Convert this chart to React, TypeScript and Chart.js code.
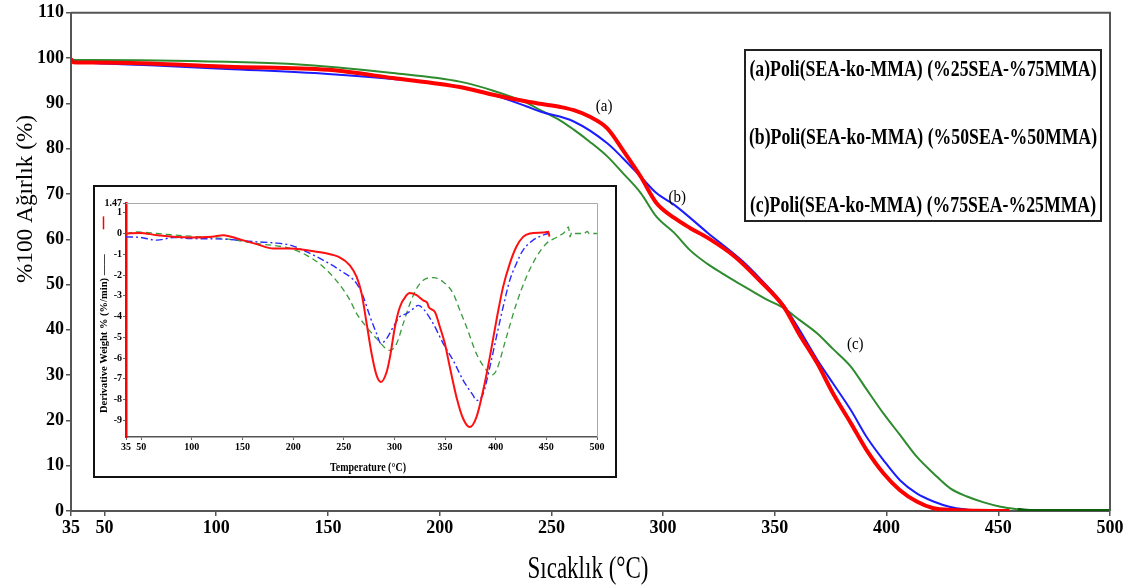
import React, { useEffect, useRef } from "react";
import { Chart, registerables } from "chart.js";

Chart.register(...registerables);

const SERIF = '"Liberation Serif", "Times New Roman", serif';

// ---------- Main TGA data (temperature °C -> % weight) ----------
const tempA = [35, 36, 45, 75, 105, 150, 179, 209, 224, 239, 245, 254, 260, 267, 275, 282, 290, 297, 305, 312, 320, 332, 343, 354, 361, 369, 376, 384, 391, 398.5, 406, 413.5, 421, 430, 440, 455];
const weightA = [99.8, 99.1, 99.0, 98.7, 98.1, 97.4, 95.6, 93.6, 91.9, 90.4, 89.9, 89.2, 88.5, 87.1, 84.5, 79.7, 73.8, 68.0, 64.7, 62.5, 60.3, 56.2, 51.0, 45.1, 39.0, 32.6, 26.0, 19.4, 13.5, 8.4, 4.6, 2.1, 0.6, 0.2, 0.05, 0];

const tempB = [35, 45, 75, 105, 150, 179, 209, 224, 239, 245, 260, 275, 282, 290, 297, 305, 320, 335, 343, 354, 361, 369, 376, 384, 391, 398.5, 406, 413.5, 421, 428.5, 436, 440];
const weightB = [99.3, 98.9, 98.3, 97.6, 96.5, 95.4, 93.7, 91.9, 89.3, 88.2, 86.0, 81.2, 77.9, 73.8, 70.2, 67.6, 61.4, 55.4, 51.5, 45.4, 40.0, 33.4, 28.2, 22.3, 16.4, 11.3, 6.8, 3.9, 2.1, 0.9, 0.3, 0.1];

const tempC = [35, 45, 105, 134, 179, 209, 224, 239, 245, 254, 260, 267, 275, 282, 290, 297, 305, 312, 320, 327, 332, 340, 346, 354, 361, 369, 376, 384, 391, 398.5, 406, 413.5, 421, 428.5, 436, 443.5, 451, 458.5, 465, 500];
const weightC = [99.6, 99.6, 99.2, 98.7, 96.7, 94.8, 92.8, 90.1, 88.5, 86.2, 84.2, 81.6, 78.3, 74.6, 70.2, 65.0, 61.4, 57.6, 54.5, 52.3, 50.8, 48.5, 46.8, 44.8, 42.2, 39.2, 35.8, 31.9, 26.9, 21.6, 16.8, 12.0, 8.3, 5.0, 3.2, 1.9, 0.95, 0.4, 0.1, 0.1];

// ---------- Inset DTG data (temperature °C -> derivative weight %/min) ----------
const dtgTempA = [35, 49, 65.6, 98.4, 120, 131, 147.7, 164, 180.6, 197, 213.4, 229.9, 246.3, 256, 262.7, 267.6, 272.6, 277.5, 282.4, 286.7, 292.3, 295.6, 300.5, 305.4, 312, 315, 321.9, 328.4, 332.5, 334, 340, 344.9, 349.8, 354.7, 361.3, 367.9, 374.4, 381, 387.6, 394.2, 400.7, 407.3, 413.9, 420.4, 427, 433.6, 446.7, 452, 453];
const dtgA = [0.0, 0.03, -0.08, -0.19, -0.15, -0.08, -0.29, -0.51, -0.72, -0.72, -0.8, -0.93, -1.16, -1.53, -2.09, -2.89, -4.34, -5.79, -6.83, -7.15, -6.67, -5.95, -4.5, -3.54, -2.97, -2.86, -2.97, -3.22, -3.35, -3.55, -3.78, -4.5, -5.3, -6.43, -7.88, -8.92, -9.32, -8.84, -7.56, -5.95, -4.18, -2.57, -1.45, -0.64, -0.16, 0, 0.05, 0.08, -0.15];

const dtgTempB = [35, 49, 65.6, 82, 98.4, 131, 164, 180.6, 197, 213.4, 229.9, 246.3, 262.7, 269.3, 275.9, 282.4, 286.7, 292.3, 298.9, 305.4, 312, 318.6, 323.5, 328.4, 338.3, 348.2, 358, 367.9, 377.7, 381, 387.6, 394.2, 400.7, 407.3, 413.9, 420.4, 427, 436.9, 446.7, 451.7];
const dtgB = [-0.16, -0.19, -0.32, -0.19, -0.24, -0.27, -0.4, -0.45, -0.56, -0.88, -1.29, -1.77, -2.41, -3.05, -4.0, -4.82, -5.3, -5.06, -4.5, -4.0, -3.86, -3.62, -3.46, -3.62, -4.34, -5.3, -6.11, -7.07, -7.8, -8.04, -7.72, -6.43, -4.98, -3.54, -2.25, -1.45, -0.8, -0.32, -0.08, 0];

const dtgTempC = [35, 45.8, 65.6, 98.4, 131, 164, 197, 213.4, 229.9, 246.3, 256.2, 262.7, 272.6, 282.4, 295.6, 302.1, 308.7, 315.3, 321.9, 328.4, 338.3, 348.2, 358, 364.6, 371.2, 381, 390.9, 395.8, 400.7, 410.6, 420.4, 430.3, 440.2, 450, 459.9, 464.8, 466.5, 469.5, 471.8, 473.4, 475, 479, 487, 490.5, 492, 500];
const dtgC = [0, 0.08, 0, -0.13, -0.24, -0.48, -0.72, -1.05, -1.61, -2.49, -3.22, -3.86, -4.5, -5.06, -5.63, -5.31, -4.34, -3.38, -2.65, -2.25, -2.12, -2.33, -2.89, -3.7, -4.5, -5.79, -6.59, -6.83, -6.59, -4.98, -3.38, -2.09, -1.13, -0.48, -0.19, -0.05, 0.0, 0.16, 0.32, -0.16, 0.05, 0, 0, 0.1, 0, 0];

// ---------- Ticks and labels ----------
const xTicks = [35, 50, 100, 150, 200, 250, 300, 350, 400, 450, 500];
const insetYTicks = [1.47, 1, 0, -1, -2, -3, -4, -5, -6, -7, -8, -9];
const legendLabels = [
  "(a)Poli(SEA-ko-MMA) (%25SEA-%75MMA)",
  "(b)Poli(SEA-ko-MMA) (%50SEA-%50MMA)",
  "(c)Poli(SEA-ko-MMA) (%75SEA-%25MMA)",
];
const curveLabels = ["(a)", "(b)", "(c)"];
const xTitle = "Sıcaklık (°C)";
const yTitle = "%100 Ağırlık (%)";
const insetXTitle = "Temperature (°C)";
const insetYTitle = "Derivative Weight % (%/min) ——";

const toPts = (xs: number[], ys: number[]) => xs.map((x, i) => ({ x, y: ys[i] }));

function stretchText(
  ctx: CanvasRenderingContext2D,
  text: string,
  x: number,
  y: number,
  font: string,
  sx: number,
  sy: number,
  align: CanvasTextAlign = "center",
  baseline: CanvasTextBaseline = "middle",
  rot = 0
) {
  ctx.save();
  ctx.translate(x, y);
  if (rot) ctx.rotate(rot);
  ctx.scale(sx, sy);
  ctx.font = font;
  ctx.fillStyle = "#000";
  ctx.textAlign = align;
  ctx.textBaseline = baseline;
  ctx.fillText(text, 0, 0);
  ctx.restore();
}

const mainDecor = {
  id: "mainDecor",
  afterDraw(chart: any) {
    const ctx: CanvasRenderingContext2D = chart.ctx;
    const { left, right, top, bottom } = chart.chartArea;
    const xs = chart.scales.x;
    const ys = chart.scales.y;
    ctx.save();
    // frame top / right
    ctx.strokeStyle = "#555";
    ctx.lineWidth = 2;
    ctx.beginPath();
    ctx.moveTo(left, top);
    ctx.lineTo(right, top);
    ctx.lineTo(right, bottom);
    ctx.stroke();
    // legend box
    ctx.strokeStyle = "#222";
    ctx.lineWidth = 2;
    ctx.strokeRect(745, 50, 356, 171);
    const ly = [70, 138, 206];
    legendLabels.forEach((t, i) =>
      stretchText(ctx, t, 923, ly[i], `bold 18px ${SERIF}`, 0.985, 1.25)
    );
    // curve labels (anchored at data coordinates)
    const anchors = [
      [273.6, 89.2],
      [306.3, 69.1],
      [386, 36.7],
    ];
    curveLabels.forEach((t, i) =>
      stretchText(
        ctx,
        t,
        xs.getPixelForValue(anchors[i][0]),
        ys.getPixelForValue(anchors[i][1]),
        `15px ${SERIF}`,
        1,
        1.1
      )
    );
    // axis titles
    stretchText(ctx, xTitle, 588, 578, `23px ${SERIF}`, 1, 1.4, "center", "alphabetic");
    stretchText(ctx, yTitle, 32, 199, `24px ${SERIF}`, 0.97, 1, "center", "alphabetic", -Math.PI / 2);
    ctx.restore();
  },
};

const insetDecor = {
  id: "insetDecor",
  beforeDatasetsDraw(chart: any) {
    const ctx: CanvasRenderingContext2D = chart.ctx;
    const { left, right, top, bottom } = chart.chartArea;
    ctx.save();
    ctx.strokeStyle = "#aaa";
    ctx.lineWidth = 1;
    ctx.beginPath();
    ctx.moveTo(left, top + 0.5);
    ctx.lineTo(right + 0.5, top + 0.5);
    ctx.lineTo(right + 0.5, bottom);
    ctx.stroke();
    ctx.restore();
  },
  afterDraw(chart: any) {
    const ctx: CanvasRenderingContext2D = chart.ctx;
    ctx.save();
    stretchText(ctx, insetXTitle, 273, 284, `bold 10px ${SERIF}`, 1, 1.2, "center", "alphabetic");
    // rotated y title
    ctx.save();
    ctx.translate(12, 226);
    ctx.rotate(-Math.PI / 2);
    ctx.font = `bold 10.5px ${SERIF}`;
    ctx.fillStyle = "#000";
    ctx.textAlign = "left";
    ctx.textBaseline = "alphabetic";
    ctx.fillText(insetYTitle, 0, 0);
    const w = ctx.measureText(insetYTitle).width;
    ctx.strokeStyle = "#ff0000";
    ctx.lineWidth = 1.5;
    ctx.beginPath();
    ctx.moveTo(w + 25, -3.5);
    ctx.lineTo(w + 38, -3.5);
    ctx.stroke();
    ctx.restore();
    ctx.restore();
  },
};

export default function App() {
  const mainRef = useRef<HTMLCanvasElement>(null);
  const insetRef = useRef<HTMLCanvasElement>(null);

  useEffect(() => {
    const tickFont = { family: SERIF, size: 18, weight: "bold" as const };
    const main = new Chart(mainRef.current as HTMLCanvasElement, {
      type: "line",
      data: {
        datasets: [
          {
            label: "a",
            data: toPts(tempA, weightA),
            borderColor: "#ff0000",
            borderWidth: 4,
            pointRadius: 0,
            cubicInterpolationMode: "monotone",
          },
          {
            label: "b",
            data: toPts(tempB, weightB),
            borderColor: "#1c1cff",
            borderWidth: 2,
            pointRadius: 0,
            cubicInterpolationMode: "monotone",
          },
          {
            label: "c",
            data: toPts(tempC, weightC),
            borderColor: "#2e8b2e",
            borderWidth: 2,
            pointRadius: 0,
            cubicInterpolationMode: "monotone",
            segment: {
              borderColor: (c: any) => (c.p0.parsed.x >= 458 ? "#0b5d0b" : undefined),
              borderWidth: (c: any) => (c.p0.parsed.x >= 458 ? 3 : undefined),
            },
          },
        ],
      },
      options: {
        animation: false,
        responsive: false,
        devicePixelRatio: 1,
        layout: { padding: { left: 0, top: 12, right: 29, bottom: 0 } },
        plugins: { legend: { display: false }, tooltip: { enabled: false } },
        scales: {
          x: {
            type: "linear",
            min: 35,
            max: 500,
            afterBuildTicks: (s: any) => {
              s.ticks = xTicks.map((v) => ({ value: v }));
            },
            afterFit: (s: any) => {
              s.height = 76;
            },
            ticks: { font: tickFont, color: "#000", autoSkip: false, maxRotation: 0, padding: 2 },
            grid: { drawOnChartArea: false, drawTicks: true, tickLength: 5, color: "#555", lineWidth: 1.5 },
            border: { color: "#555", width: 2 },
          },
          y: {
            min: 0,
            max: 110,
            afterFit: (s: any) => {
              s.width = 71;
            },
            ticks: { stepSize: 10, font: tickFont, color: "#000", padding: 2 },
            grid: { drawOnChartArea: false, drawTicks: true, tickLength: 5, color: "#555", lineWidth: 1.5 },
            border: { color: "#555", width: 2 },
          },
        },
      },
      plugins: [mainDecor],
    } as any);

    const insetFont = { family: SERIF, size: 10, weight: "bold" as const };
    const inset = new Chart(insetRef.current as HTMLCanvasElement, {
      type: "line",
      data: {
        datasets: [
          {
            label: "a",
            data: toPts(dtgTempA, dtgA),
            borderColor: "#ff1010",
            borderWidth: 2,
            pointRadius: 0,
            cubicInterpolationMode: "monotone",
          },
          {
            label: "b",
            data: toPts(dtgTempB, dtgB),
            borderColor: "#2a2aff",
            borderWidth: 1.4,
            borderDash: [7, 3, 2, 3],
            pointRadius: 0,
            cubicInterpolationMode: "monotone",
          },
          {
            label: "c",
            data: toPts(dtgTempC, dtgC),
            borderColor: "#3a9a3a",
            borderWidth: 1.3,
            borderDash: [6, 4],
            pointRadius: 0,
            cubicInterpolationMode: "monotone",
          },
        ],
      },
      options: {
        animation: false,
        responsive: false,
        devicePixelRatio: 1,
        layout: { padding: { left: 0, top: 16, right: 18, bottom: 0 } },
        plugins: { legend: { display: false }, tooltip: { enabled: false } },
        scales: {
          x: {
            type: "linear",
            min: 35,
            max: 500,
            afterBuildTicks: (s: any) => {
              s.ticks = xTicks.map((v) => ({ value: v }));
            },
            afterFit: (s: any) => {
              s.height = 39;
            },
            ticks: { font: insetFont, color: "#000", autoSkip: false, maxRotation: 0, padding: 1 },
            grid: { drawOnChartArea: false, drawTicks: true, tickLength: 3, color: "#666", lineWidth: 1 },
            border: { color: "#555", width: 1.5 },
          },
          y: {
            min: -9.8,
            max: 1.47,
            afterBuildTicks: (s: any) => {
              s.ticks = insetYTicks.map((v) => ({ value: v }));
            },
            afterFit: (s: any) => {
              s.width = 31;
            },
            ticks: {
              font: insetFont,
              color: "#000",
              padding: 1,
              callback: (v: any) => String(v),
            },
            grid: { drawOnChartArea: false, drawTicks: true, tickLength: 3, color: "#666", lineWidth: 1 },
            border: { color: "#ff0000", width: 2.5 },
          },
        },
      },
      plugins: [insetDecor],
    } as any);

    return () => {
      main.destroy();
      inset.destroy();
    };
  }, []);

  return (
    <div
      style={{
        position: "absolute",
        left: 0,
        top: 0,
        width: 1139,
        height: 587,
        background: "#fff",
        overflow: "hidden",
      }}
    >
      <canvas
        ref={mainRef}
        width={1139}
        height={587}
        style={{ position: "absolute", left: 0, top: 0 }}
      />
      <div
        style={{
          position: "absolute",
          left: 93,
          top: 185,
          width: 524,
          height: 293,
          border: "2px solid #111",
          boxSizing: "border-box",
          background: "#fff",
        }}
      >
        <canvas ref={insetRef} width={520} height={289} style={{ display: "block" }} />
      </div>
    </div>
  );
}
